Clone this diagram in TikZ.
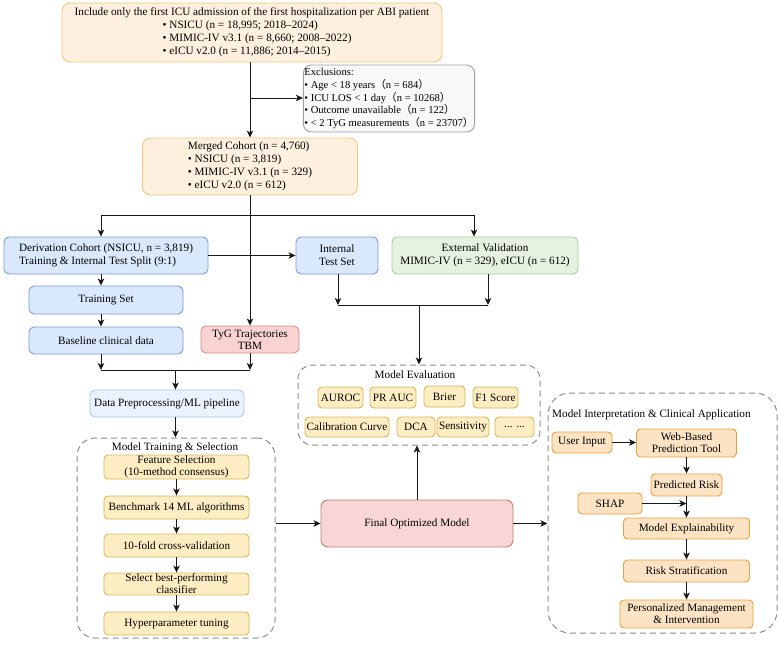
\documentclass[tikz,border=0pt]{standalone}
\usepackage{fontspec}
\setmainfont{Liberation Serif}
\newfontfamily\cjk{Noto Sans CJK SC}
\usetikzlibrary{arrows.meta}
\definecolor{peachF}{HTML}{FDF0DE}
\definecolor{peachD}{HTML}{F2C57C}
\definecolor{greyF}{HTML}{F8F8F8}
\definecolor{greyD}{HTML}{A0A0A0}
\definecolor{blueF}{HTML}{DAE8FC}
\definecolor{blueD}{HTML}{7A9CCF}
\definecolor{lblueF}{HTML}{EAF2FD}
\definecolor{lblueD}{HTML}{A8C6F0}
\definecolor{greenF}{HTML}{E6F2DF}
\definecolor{greenD}{HTML}{ABCC9A}
\definecolor{redF}{HTML}{F8D3D1}
\definecolor{redD}{HTML}{D98C8A}
\definecolor{finF}{HTML}{F8D6D6}
\definecolor{finD}{HTML}{C9797A}
\definecolor{yelF}{HTML}{FDEDC2}
\definecolor{yelD}{HTML}{DDB45A}
\definecolor{oraF}{HTML}{FCE3C4}
\definecolor{oraD}{HTML}{E8A03A}
\definecolor{contD}{HTML}{8C8C8C}
\begin{document}
\begin{tikzpicture}[x=1pt,y=-1pt,
  base/.style={rounded corners=5pt, line width=0.9pt, inner sep=1pt,
    font=\fontsize{11.2}{12.8}\selectfont, align=center},
  peach/.style={base, fill=peachF, draw=peachD, rounded corners=8pt},
  greybox/.style={base, fill=greyF, draw=greyD, rounded corners=8pt},
  bluebox/.style={base, fill=blueF, draw=blueD},
  lbluebox/.style={base, fill=lblueF, draw=lblueD},
  greenbox/.style={base, fill=greenF, draw=greenD},
  redbox/.style={base, fill=redF, draw=redD},
  finbox/.style={base, fill=finF, draw=finD, rounded corners=7pt},
  yelbox/.style={base, fill=yelF, draw=yelD, rounded corners=4pt},
  orabox/.style={base, fill=oraF, draw=oraD, rounded corners=4pt},
  tight/.style={font=\fontsize{11.2}{11.8}\selectfont},
  cont/.style={draw=contD, line width=1pt, dash pattern=on 6pt off 4pt, rounded corners=18pt},
  ttl/.style={font=\fontsize{11.2}{12.8}\selectfont, inner sep=0pt},
  lin/.style={line width=0.9pt, draw=black!90},
  arr/.style={lin, -{Stealth[length=7pt,width=6.5pt,inset=1.8pt]}}
]
\useasboundingbox (0,0) rectangle (779,645);

% top
\node[peach, minimum width=380pt, minimum height=59pt] (top) at (252,32.5) {%
\begin{tabular}{@{}l@{}}
\multicolumn{1}{@{}c@{}}{Include only the first ICU admission of the first hospitalization per ABI patient}\\
\hspace*{88pt}• NSICU (n = 18,995; 2018--2024)\\
\hspace*{88pt}• MIMIC-IV v3.1 (n = 8,660; 2008--2022)\\
\hspace*{88pt}• eICU v2.0 (n = 11,886; 2014--2015)
\end{tabular}};

\node[greybox, align=left, font=\fontsize{10.6}{12.6}\selectfont, minimum width=162pt, minimum height=67pt] (excl) at (389,98.5) {%
Exclusions:\\
• Age < 18 years{\cjk （}n = 684{\cjk ）}\\
• ICU LOS < 1 day{\cjk （}n = 10268{\cjk ）}\\
• Outcome unavailable{\cjk （}n = 122{\cjk ）}\\
• < 2 TyG measurements{\cjk （}n = 23707{\cjk ）}};

\node[peach, align=left, minimum width=215pt, minimum height=57pt] (merged) at (250,166.5) {%
Merged Cohort (n = 4,760)\\
• NSICU (n = 3,819)\\
• MIMIC-IV v3.1 (n = 329)\\
• eICU v2.0 (n = 612)};

\node[bluebox, align=left, minimum width=204pt, minimum height=37pt] (deriv) at (106,255.5) {%
Derivation Cohort (NSICU, n = 3,819)\\ Training \& Internal Test Split (9:1)};
\node[bluebox, minimum width=82pt, minimum height=37pt] (internal) at (337,255.5) {Internal\\ Test Set};
\node[greenbox, minimum width=186pt, minimum height=37pt] (ext) at (485,255.5) {External Validation\\ MIMIC-IV (n = 329), eICU (n = 612)};

\node[bluebox, minimum width=154pt, minimum height=28pt] (train) at (106,300) {Training Set};
\node[bluebox, minimum width=154pt, minimum height=27pt] (basel) at (106,340.5) {Baseline clinical data};
\node[redbox, tight, minimum width=98pt, minimum height=27pt] (tyg) at (250,339.5) {TyG Trajectories\\ TBM};
\node[lbluebox, minimum width=154pt, minimum height=27pt] (prep) at (167,403.5) {Data Preprocessing/ML pipeline};

% model training container
\node[cont, minimum width=198pt, minimum height=200pt] (mts) at (176,538) {};
\node[ttl] (mtsT) at (175,448) {Model Training \& Selection};
\node[yelbox, tight, minimum width=145pt, minimum height=24pt] (fs) at (176.5,467) {Feature Selection\\ (10-method consensus)};
\node[yelbox, minimum width=145pt, minimum height=23pt] (bench) at (176.5,507.5) {Benchmark 14 ML algorithms};
\node[yelbox, minimum width=145pt, minimum height=23pt] (cv) at (176.5,545.5) {10-fold cross-validation};
\node[yelbox, tight, minimum width=145pt, minimum height=22pt] (sel) at (176.5,584) {Select best-performing\\ classifier};
\node[yelbox, minimum width=145pt, minimum height=23pt] (hyp) at (176.5,623.5) {Hyperparameter tuning};

% model evaluation container
\node[cont, rounded corners=14pt, minimum width=242pt, minimum height=80pt] (meval) at (419,405) {};
\node[ttl] (mevalT) at (415,375) {Model Evaluation};
\node[yelbox, minimum width=45pt, minimum height=21pt] (auroc) at (340.5,397.5) {AUROC};
\node[yelbox, minimum width=46pt, minimum height=21pt] (prauc) at (393,397.5) {PR AUC};
\node[yelbox, minimum width=41pt, minimum height=21pt] (brier) at (444.5,396.5) {Brier};
\node[yelbox, minimum width=45pt, minimum height=21pt] (f1) at (495.5,397.5) {F1 Score};
\node[yelbox, minimum width=84pt, minimum height=20pt] (calib) at (347,427) {Calibration Curve};
\node[yelbox, minimum width=38pt, minimum height=20pt] (dca) at (416,427) {DCA};
\node[yelbox, minimum width=52pt, minimum height=20pt] (sens) at (463,427) {Sensitivity};
\node[yelbox, minimum width=39pt, minimum height=20pt] (dots) at (514.5,427) {... ...};

\node[finbox, minimum width=192pt, minimum height=47pt] (final) at (417,523.5) {Final Optimized Model};

% model interpretation container
\node[cont, rounded corners=22pt, minimum width=229pt, minimum height=240pt] (mi) at (662.5,513) {};
\node[ttl, anchor=west] (miT) at (552,415) {Model Interpretation \& Clinical Application};
\node[orabox, minimum width=60pt, minimum height=21pt] (user) at (582,442.5) {User Input};
\node[orabox, tight, minimum width=100pt, minimum height=28pt] (web) at (686.5,443) {Web-Based\\ Prediction Tool};
\node[orabox, minimum width=71pt, minimum height=22pt] (pred) at (686.5,485) {Predicted Risk};
\node[orabox, minimum width=64pt, minimum height=21pt] (shap) at (610,503.5) {SHAP};
\node[orabox, minimum width=126pt, minimum height=21pt] (expl) at (686.5,528.5) {Model Explainability};
\node[orabox, minimum width=126pt, minimum height=22pt] (risk) at (686.5,571) {Risk Stratification};
\node[orabox, tight, minimum width=133pt, minimum height=28pt] (pers) at (686.5,614) {Personalized Management\\ \& Intervention};

% coordinates
\coordinate (ex) at (250,98);
\coordinate (hl) at (101,215);
\coordinate (hr) at (474,215);
\coordinate (ml) at (338,305);
\coordinate (mr) at (488,305);
\coordinate (bl) at (101,370);
\coordinate (bm) at (175.5,370);
\coordinate (sj) at (686.5,503.5);

% connectors
\draw[arr] (merged.north |- top.south) -- (merged.north);
\draw[arr] (ex) -- (ex -| excl.west);
\draw[arr] (merged.south) -- (tyg.north);
\draw[lin] (hl) -- (hr);
\draw[arr] (hl) -- (hl |- deriv.north);
\draw[arr] (hr) -- (hr |- ext.north);
\draw[arr] (deriv.east) -- (internal.west);
\draw[arr] (hl |- deriv.south) -- (hl |- train.north);
\draw[arr] (hl |- train.south) -- (hl |- basel.north);
\draw[arr] (ml |- internal.south) -- (ml);
\draw[arr] (mr |- ext.south) -- (mr);
\draw[lin] (ml) -- (mr);
\draw[arr] (meval.north |- ml) -- (meval.north);
\draw[arr] (hl |- basel.south) -- (bl);
\draw[arr] (tyg.south) -- (tyg.south |- bl);
\draw[lin] (bl) -- (tyg.south |- bl);
\draw[arr] (bm) -- (bm |- prep.north);
\draw[arr] (bm |- prep.south) -- (bm |- mts.north);
\draw[arr] (fs) -- (bench);
\draw[arr] (bench) -- (cv);
\draw[arr] (cv) -- (sel);
\draw[arr] (sel) -- (hyp);
\draw[arr] (mts.east |- final.west) -- (final.west);
\draw[arr] (final.east) -- (final.east -| mi.west);
\draw[arr] (final.north) -- (final.north |- meval.south);
\draw[arr] (user.east) -- (user.east -| web.west);
\draw[arr] (web) -- (pred);
\draw[arr] (shap.east) -- (sj);
\draw[arr] (pred) -- (expl);
\draw[arr] (expl) -- (risk);
\draw[arr] (risk) -- (pers);
\end{tikzpicture}
\end{document}
